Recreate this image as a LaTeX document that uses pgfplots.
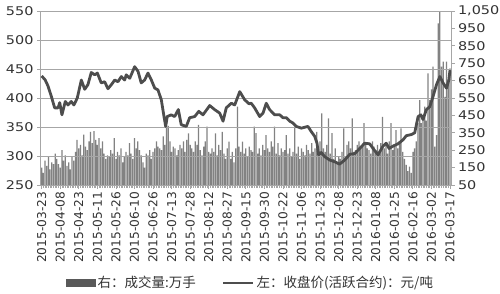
\documentclass[border=0pt]{standalone}
\usepackage{graphicx}
\usepackage{pgfplots}
\usepackage{pgfplotstable}
\pgfplotsset{compat=1.18}
\usepackage{fontspec}
\setmainfont{DejaVu Sans}
\newfontfamily\cjk{Noto Sans CJK SC}
\definecolor{barc}{HTML}{828282}
\definecolor{linec}{HTML}{4D4D4D}
\definecolor{gridc}{HTML}{A6A6A6}
\definecolor{legbar}{HTML}{595959}
\definecolor{txt}{HTML}{333333}

\pgfplotstableread{
x y
0 438
2.1 431
3.7 421
5.7 403
7.7 383
9.7 383
10.7 392
12 371
14 394
15.6 388
17.5 394
19.1 388
21.1 400
23.5 431
25.5 415
27.4 423
29.4 444
31.4 440
33 443
35.3 426
37.3 428
39.3 416
41.3 423
43.3 431
45.2 428
47.2 437
49.2 431
50.1 440
52.2 434
55.1 454
57.1 446
59 426
61 431
63 443
65 431
67 417
68.9 414
70.9 397
72.5 368
73.5 351
74.4 368
76.8 371
78.8 368
81 380
82.7 354
85.7 351
87.7 366
90.7 368
93.1 377
95.6 371
99.6 387
102.5 380
105.5 374
107.5 360
109.4 383
112.4 391
114.4 388
117.4 411
120.3 397
122.9 390
124.2 391
126.2 383
129.2 368
131.2 374
133.1 391
135.1 380
138.1 371
141.1 371
143 366
145 366
147 360
148.9 357
150.9 351
153.9 348
157.8 351
159.8 342
161.8 334
163.2 322
164.1 302
165.7 306
167.7 299
170.7 293
173.7 290
176.6 286
179.6 293
182.6 303
185.5 304
188.5 313
191.4 322
194.4 321
196.4 313
199.3 302
202.3 317
204.2 322
205.9 313
208.2 317
211.2 321
214.2 328
216.1 335
219.1 337
221.1 340
223.1 368
224.7 371
226 363
228 380
230 385
232 403
234 423
236 437
237.9 426
239.9 417
241.3 431
242 448
}\pricedata

\pgfplotsset{
  common/.style={
    scale only axis,
    width=410.5pt, height=174pt,
    xmin=-0.7, xmax=242.6,
    axis line style={gridc, line width=0.8pt},
    tick style={gridc, line width=0.8pt},
    tick align=outside,
    major tick length=3.5pt,
    minor tick length=3pt,
    tick label style={text=txt},
    yticklabel={\scalebox{1.2}[1]{\pgfmathprintnumber[assume math mode=true]{\tick}}},
    yticklabel style={font=\fontsize{12}{12}\selectfont},
  }
}

\begin{document}
\begin{tikzpicture}

\begin{axis}[common,
  axis y line*=right,
  axis x line*=bottom,
  xtick=\empty,
  ymin=50, ymax=1050,
  ytick={50,150,...,1050},
]
\addplot[ybar, bar width=1.25pt, fill=barc, draw=none] coordinates {
(0,150) (1,120) (2,190) (3,160) (4,210) (5,140) (6,180) (7,170) (8,230) (9,200)
(10,170) (11,150) (12,250) (13,190) (14,220) (15,160) (16,180) (17,140) (18,210) (19,190)
(20,240) (21,310) (22,260) (23,280) (24,220) (25,340) (26,270) (27,250) (28,300) (29,355)
(30,290) (31,360) (32,310) (33,280) (34,320) (35,260) (36,300) (37,230) (38,200) (39,220)
(40,210) (41,250) (42,230) (43,320) (44,200) (45,240) (46,220) (47,260) (48,180) (49,210)
(50,240) (51,220) (52,290) (53,230) (54,200) (55,320) (56,260) (57,300) (58,250) (59,220)
(60,180) (61,150) (62,230) (63,220) (64,250) (65,200) (66,240) (67,260) (68,300) (69,270)
(70,260) (71,250) (72,330) (73,280) (74,385) (75,390) (76,300) (77,240) (78,270) (79,260)
(80,220) (81,250) (82,280) (83,260) (84,300) (85,240) (86,310) (87,347) (88,280) (89,260)
(90,240) (91,300) (92,280) (93,395) (94,250) (95,220) (96,270) (97,300) (98,385) (99,240)
(100,230) (101,260) (102,240) (103,347) (104,220) (105,280) (106,250) (107,356) (108,230) (109,200)
(110,260) (111,299) (112,200) (113,240) (114,180) (115,260) (116,500) (117,270) (118,240) (119,299)
(120,230) (121,260) (122,210) (123,270) (124,250) (125,240) (126,385) (127,348) (128,230) (129,260)
(130,220) (131,280) (132,250) (133,337) (134,260) (135,240) (136,300) (137,270) (138,385) (139,230)
(140,290) (141,220) (142,260) (143,240) (144,250) (145,337) (146,230) (147,260) (148,210) (149,240)
(150,385) (151,230) (152,270) (153,200) (154,260) (155,240) (156,220) (157,280) (158,250) (159,230)
(160,290) (161,240) (162,260) (163,356) (164,230) (165,300) (166,462) (167,260) (168,240) (169,280)
(170,433) (171,230) (172,348) (173,200) (174,260) (175,180) (176,210) (177,200) (178,240) (179,376)
(180,210) (181,280) (182,300) (183,260) (184,433) (185,240) (186,250) (187,280) (188,300) (189,260)
(190,280) (191,405) (192,290) (193,260) (194,250) (195,230) (196,300) (197,270) (198,250) (199,280)
(200,240) (201,290) (202,442) (203,260) (204,280) (205,230) (206,300) (207,405) (208,250) (209,280)
(210,366) (211,260) (212,300) (213,376) (214,240) (215,200) (216,165) (217,130) (218,155) (219,120)
(220,241) (221,261) (222,300) (223,405) (224,538) (225,405) (226,450) (227,500) (228,420) (229,692)
(230,538) (231,600) (232,730) (233,270) (234,337) (235,979) (236,1046) (237,730) (238,759) (239,557)
(240,759) (241,644) (242,720)
};
\end{axis}

\begin{axis}[common,
  axis x line*=bottom,
  axis y line*=left,
  ymin=250, ymax=550,
  ytick={250,300,...,550},
  ymajorgrids,
  grid style={gridc, line width=0.8pt},
  xtick={0,11,...,242},
  minor x tick num=10,
  xticklabels={2015-03-23,2015-04-08,2015-04-23,2015-05-11,2015-05-26,2015-06-10,2015-06-26,2015-07-13,2015-07-28,2015-08-12,2015-08-27,2015-09-15,2015-09-30,2015-10-22,2015-11-06,2015-11-23,2015-12-08,2015-12-23,2016-01-08,2016-01-25,2016-02-16,2016-03-02,2016-03-17},
  xticklabel style={rotate=90, anchor=east, font=\fontsize{12.2}{12.2}\selectfont},
  legend columns=2,
  legend style={at={(0.512,-0.563)}, anchor=center, draw=none, fill=none,
    font=\cjk\fontsize{13.5}{14}\selectfont, text=txt,
    /tikz/every even column/.append style={column sep=24pt}},
]
\addlegendimage{legend image code/.code={\fill[legbar] (0pt,-3.5pt) rectangle (29pt,3.5pt);}}
\addlegendentry{右：成交量:万手}
\addplot[linec, line width=2.8pt, line join=round,
  legend image code/.code={\draw[linec, line width=2.6pt] (0pt,0pt) -- (30pt,0pt);}]
  table[x=x, y=y]{\pricedata};
\addlegendentry{左：收盘价(活跃合约)：元/吨}
\end{axis}
\pgfresetboundingbox
\path[use as bounding box] (-40.5pt,-109pt) rectangle (459.5pt,185pt);
\end{tikzpicture}
\end{document}
